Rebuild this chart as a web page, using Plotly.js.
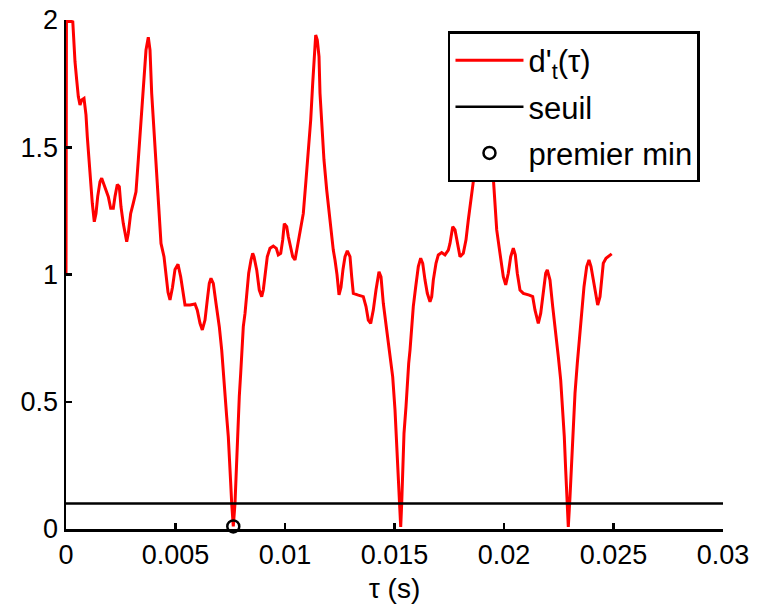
<!DOCTYPE html>
<html>
<head>
<meta charset="utf-8">
<script src="https://cdn.plot.ly/plotly-3.0.1.min.js"></script>
<style>html,body{margin:0;padding:0;background:#fff;}#chart{width:757px;height:606px;}</style>
</head>
<body>
<div id="chart"></div>
<script>
// lag tau (s)
const tau = [0, 0.00002, 0.00031, 0.000365, 0.000411, 0.000489, 0.000562, 0.000639, 0.000717, 0.000822, 0.000913, 0.000973, 0.00105, 0.001128, 0.001201, 0.001292, 0.00137, 0.001447, 0.001553, 0.00163, 0.001781, 0.001932, 0.002041, 0.00216, 0.002237, 0.002342, 0.002434, 0.002511, 0.002616, 0.002772, 0.002845, 0.002954, 0.003073, 0.003196, 0.003301, 0.003411, 0.003502, 0.003562, 0.003653, 0.003758, 0.003836, 0.003913, 0.004018, 0.004142, 0.004247, 0.004338, 0.004475, 0.004566, 0.004658, 0.004749, 0.004863, 0.004977, 0.005114, 0.005237, 0.005388, 0.005434, 0.005662, 0.00589, 0.005995, 0.006119, 0.006224, 0.006347, 0.006452, 0.006543, 0.006621, 0.006726, 0.006849, 0.007, 0.00711, 0.007183, 0.00726, 0.007338, 0.007411, 0.007457, 0.00752, 0.007566, 0.007612, 0.007639, 0.007717, 0.007763, 0.007822, 0.007868, 0.007913, 0.007977, 0.008037, 0.008096, 0.008174, 0.008251, 0.008342, 0.008447, 0.008525, 0.008584, 0.008708, 0.008826, 0.008936, 0.009009, 0.0091, 0.009192, 0.009315, 0.009466, 0.009603, 0.009694, 0.009804, 0.009895, 0.009968, 0.010078, 0.010151, 0.01026, 0.010352, 0.010457, 0.010562, 0.010685, 0.010836, 0.010959, 0.011064, 0.011174, 0.011265, 0.011324, 0.011402, 0.011475, 0.011553, 0.011598, 0.011676, 0.01178, 0.011904, 0.012009, 0.0121, 0.012205, 0.012283, 0.012374, 0.012466, 0.012557, 0.012648, 0.01274, 0.012845, 0.012968, 0.013046, 0.013119, 0.013347, 0.013575, 0.013699, 0.013804, 0.013913, 0.014032, 0.014155, 0.014292, 0.014384, 0.014489, 0.014644, 0.014795, 0.014918, 0.015023, 0.0151, 0.015174, 0.015219, 0.015283, 0.015329, 0.015374, 0.015434, 0.015525, 0.015584, 0.015648, 0.015708, 0.015785, 0.015858, 0.015968, 0.016087, 0.016196, 0.016288, 0.016393, 0.016498, 0.016621, 0.016699, 0.016772, 0.016895, 0.017, 0.017155, 0.017306, 0.017457, 0.017534, 0.017658, 0.017763, 0.017868, 0.017991, 0.018142, 0.018265, 0.01837, 0.01848, 0.018598, 0.018721, 0.018836, 0.018927, 0.018995, 0.019064, 0.019132, 0.01921, 0.019269, 0.019361, 0.019511, 0.019589, 0.019667, 0.019817, 0.019968, 0.020078, 0.020196, 0.020306, 0.020425, 0.020516, 0.020607, 0.02073, 0.020881, 0.021155, 0.02131, 0.021416, 0.021566, 0.021676, 0.021795, 0.021904, 0.021977, 0.0221, 0.022224, 0.022329, 0.02248, 0.022589, 0.022681, 0.022753, 0.022817, 0.022877, 0.022936, 0.023014, 0.023091, 0.023164, 0.023242, 0.023347, 0.023438, 0.023548, 0.023653, 0.023776, 0.02388, 0.023973, 0.024078, 0.0242, 0.024278, 0.024384, 0.024461, 0.024534, 0.024658, 0.024808, 0.024918];
// cumulative mean normalized difference d't(tau)
const dprime = [1.0, 2.0, 1.993, 1.895, 1.836, 1.764, 1.699, 1.666, 1.686, 1.692, 1.627, 1.541, 1.45, 1.36, 1.28, 1.207, 1.24, 1.306, 1.365, 1.378, 1.345, 1.306, 1.26, 1.26, 1.306, 1.354, 1.345, 1.266, 1.2, 1.129, 1.162, 1.24, 1.28, 1.325, 1.45, 1.581, 1.699, 1.79, 1.882, 1.932, 1.882, 1.712, 1.555, 1.371, 1.227, 1.122, 1.07, 1.0, 0.93, 0.9, 0.95, 1.02, 1.04, 0.991, 0.913, 0.88, 0.88, 0.884, 0.86, 0.808, 0.782, 0.821, 0.9, 0.965, 0.985, 0.965, 0.887, 0.795, 0.703, 0.612, 0.507, 0.441, 0.363, 0.258, 0.18, 0.101, 0.022, 0.01, 0.101, 0.205, 0.363, 0.441, 0.52, 0.612, 0.716, 0.795, 0.847, 0.913, 1.005, 1.057, 1.083, 1.07, 1.018, 0.939, 0.913, 0.939, 1.018, 1.07, 1.103, 1.112, 1.103, 1.077, 1.083, 1.136, 1.2, 1.188, 1.149, 1.109, 1.07, 1.057, 1.109, 1.162, 1.24, 1.371, 1.489, 1.607, 1.751, 1.856, 1.941, 1.921, 1.856, 1.712, 1.581, 1.45, 1.332, 1.24, 1.162, 1.096, 1.057, 1.0, 0.92, 0.95, 1.02, 1.07, 1.093, 1.07, 0.991, 0.926, 0.919, 0.913, 0.874, 0.821, 0.808, 0.86, 0.939, 1.011, 0.991, 0.887, 0.782, 0.677, 0.598, 0.468, 0.337, 0.232, 0.127, 0.008, 0.101, 0.258, 0.376, 0.481, 0.572, 0.651, 0.703, 0.795, 0.874, 0.952, 1.031, 1.064, 1.044, 0.978, 0.926, 0.893, 0.913, 0.978, 1.044, 1.077, 1.086, 1.077, 1.096, 1.122, 1.188, 1.175, 1.122, 1.07, 1.083, 1.136, 1.214, 1.293, 1.365, 1.48, 1.6, 1.75, 1.86, 1.94, 1.92, 1.86, 1.7, 1.57, 1.371, 1.266, 1.175, 1.083, 0.991, 0.959, 1.005, 1.07, 1.103, 1.077, 1.005, 0.939, 0.926, 0.919, 0.913, 0.86, 0.808, 0.847, 0.939, 1.005, 1.018, 0.978, 0.874, 0.782, 0.677, 0.585, 0.481, 0.363, 0.232, 0.127, 0.008, 0.127, 0.258, 0.415, 0.533, 0.651, 0.743, 0.847, 0.952, 1.031, 1.057, 1.031, 0.978, 0.913, 0.88, 0.913, 0.991, 1.044, 1.064, 1.073, 1.081];
// threshold
const seuilX = [0, 0.03];
const seuilY = [0.1, 0.1];
// first minimum below threshold
const minX = [0.007639];
const minY = [0.01];
// ticks
const xTickVals = [0, 0.005, 0.01, 0.015, 0.02, 0.025, 0.03];
const xTickText = ['0', '0.005', '0.01', '0.015', '0.02', '0.025', '0.03'];
const yTickVals = [0, 0.5, 1, 1.5, 2];
const yTickText = ['0', '0.5', '1', '1.5', '2'];

const narrow = '"Liberation Sans Narrow", "Arial Narrow", "Liberation Sans", Arial, sans-serif';
const sans = '"Liberation Sans", Arial, Helvetica, sans-serif';

const traces = [
  {x: tau, y: dprime, type: 'scatter', mode: 'lines', name: "d'<sub>t</sub>(τ)",
   line: {color: '#ff0000', width: 3}, legendgroup: 'a'},
  {x: seuilX, y: seuilY, type: 'scatter', mode: 'lines', name: 'seuil',
   line: {color: '#000000', width: 2.5}, legendgroup: 'b'},
  {x: minX, y: minY, type: 'scatter', mode: 'markers', name: 'premier min',
   marker: {symbol: 'circle-open', size: 12, color: '#000000', line: {width: 2.5, color: '#000000'}},
   cliponaxis: false, legendgroup: 'c'}
];

const layout = {
  width: 757, height: 606,
  margin: {l: 66, r: 34, t: 20, b: 77},
  paper_bgcolor: '#ffffff', plot_bgcolor: '#ffffff',
  showlegend: true,
  legend: {
    x: 0.5814, y: 0.978, xanchor: 'left', yanchor: 'top',
    bgcolor: '#ffffff', bordercolor: '#000000', borderwidth: 2.5,
    font: {family: sans, size: 31, color: '#000000'},
    tracegroupgap: 3, itemwidth: 68
  },
  xaxis: {
    range: [0, 0.03], tickvals: xTickVals, ticktext: xTickText,
    ticks: 'inside', ticklen: 6, tickwidth: 2.5, tickcolor: '#000',
    showline: true, linecolor: '#000', linewidth: 2.5, mirror: false,
    showgrid: false, zeroline: false,
    tickfont: {family: narrow, size: 27, color: '#000'},
    title: {text: 'τ (s)', font: {family: narrow, size: 28, color: '#000'}, standoff: 10}
  },
  yaxis: {
    range: [0, 2], tickvals: yTickVals, ticktext: yTickText,
    ticks: 'inside', ticklen: 6, tickwidth: 2.5, tickcolor: '#000',
    showline: true, linecolor: '#000', linewidth: 2.5, mirror: false,
    showgrid: false, zeroline: false,
    tickfont: {family: narrow, size: 27, color: '#000'}
  }
};

Plotly.newPlot('chart', traces, layout, {displayModeBar: false, staticPlot: true});
</script>
</body>
</html>
